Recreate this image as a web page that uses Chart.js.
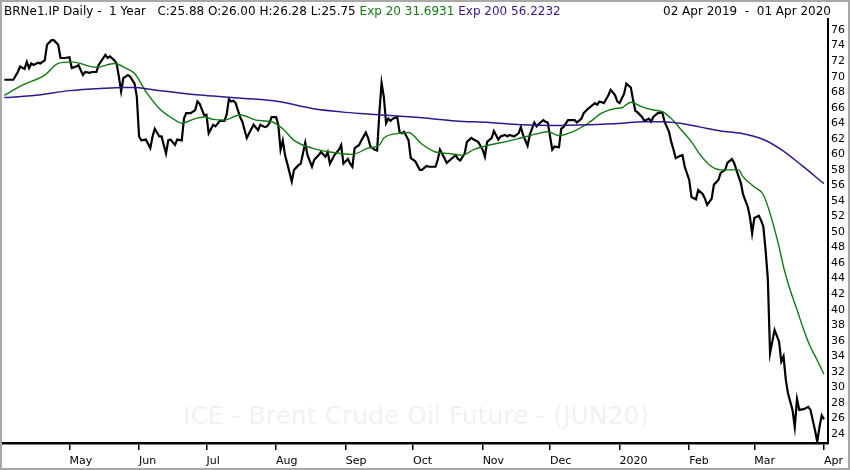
<!DOCTYPE html>
<html>
<head>
<meta charset="utf-8">
<script src="https://cdn.jsdelivr.net/npm/chart.js@4/dist/chart.umd.min.js"></script>
<style>
  html, body { margin: 0; padding: 0; background: #fff; }
  #wrap { width: 850px; height: 470px; }
</style>
</head>
<body>
<div id="wrap"><canvas id="brentChart" width="850" height="470"></canvas></div>
<script>
// Brent daily closes
var closeDates = [
  '2019-04-02','2019-04-06','2019-04-08','2019-04-09','2019-04-11','2019-04-12','2019-04-13','2019-04-14','2019-04-15',
  '2019-04-17','2019-04-18','2019-04-19','2019-04-20','2019-04-21','2019-04-23','2019-04-24','2019-04-26','2019-04-27',
  '2019-04-28','2019-04-29',
  '2019-05-01','2019-05-02','2019-05-04','2019-05-05','2019-05-07','2019-05-08','2019-05-10','2019-05-11','2019-05-13',
  '2019-05-14','2019-05-17','2019-05-18','2019-05-19','2019-05-21','2019-05-22','2019-05-23','2019-05-24','2019-05-25',
  '2019-05-27','2019-05-28','2019-05-30','2019-05-31',
  '2019-06-01','2019-06-02','2019-06-04','2019-06-06','2019-06-07','2019-06-08','2019-06-10','2019-06-11','2019-06-13',
  '2019-06-14','2019-06-15','2019-06-17','2019-06-18','2019-06-20','2019-06-21','2019-06-22','2019-06-24','2019-06-26',
  '2019-06-27','2019-06-28','2019-06-30',
  '2019-07-01','2019-07-02','2019-07-04','2019-07-05','2019-07-07','2019-07-09','2019-07-10','2019-07-11','2019-07-12',
  '2019-07-13','2019-07-14','2019-07-16','2019-07-17','2019-07-18','2019-07-19','2019-07-20','2019-07-22','2019-07-24',
  '2019-07-25','2019-07-27','2019-07-28','2019-07-29','2019-07-30',
  '2019-08-01','2019-08-02','2019-08-03','2019-08-04','2019-08-05','2019-08-06','2019-08-08','2019-08-09','2019-08-11',
  '2019-08-12','2019-08-14','2019-08-15','2019-08-17','2019-08-18','2019-08-20','2019-08-21','2019-08-23','2019-08-24',
  '2019-08-25','2019-08-27','2019-08-29','2019-08-30','2019-08-31',
  '2019-09-02','2019-09-03','2019-09-04','2019-09-05','2019-09-07','2019-09-08','2019-09-10','2019-09-11','2019-09-12',
  '2019-09-14','2019-09-15','2019-09-16','2019-09-17','2019-09-18','2019-09-19','2019-09-20','2019-09-21','2019-09-22',
  '2019-09-24','2019-09-25','2019-09-26','2019-09-27','2019-09-29','2019-09-30',
  '2019-10-02','2019-10-04','2019-10-05','2019-10-07','2019-10-08','2019-10-11','2019-10-12','2019-10-13','2019-10-15',
  '2019-10-16','2019-10-18','2019-10-20','2019-10-21','2019-10-22','2019-10-24','2019-10-25','2019-10-27','2019-10-28',
  '2019-10-30',
  '2019-11-01','2019-11-02','2019-11-03','2019-11-05','2019-11-06','2019-11-08','2019-11-09','2019-11-11','2019-11-12',
  '2019-11-13','2019-11-15','2019-11-17','2019-11-18','2019-11-19','2019-11-21','2019-11-22','2019-11-24','2019-11-25',
  '2019-11-26','2019-11-28','2019-11-29','2019-11-30',
  '2019-12-02','2019-12-03','2019-12-05','2019-12-06','2019-12-07','2019-12-09','2019-12-10','2019-12-12','2019-12-13',
  '2019-12-15','2019-12-16','2019-12-18','2019-12-19','2019-12-21','2019-12-22','2019-12-23','2019-12-25','2019-12-27',
  '2019-12-28','2019-12-30','2019-12-31',
  '2020-01-01','2020-01-03','2020-01-04','2020-01-06','2020-01-07','2020-01-08','2020-01-09','2020-01-11','2020-01-12',
  '2020-01-14','2020-01-15','2020-01-16','2020-01-18','2020-01-20','2020-01-21','2020-01-23','2020-01-24','2020-01-25',
  '2020-01-26','2020-01-28','2020-01-29','2020-01-30',
  '2020-02-01','2020-02-02','2020-02-04','2020-02-05','2020-02-07','2020-02-08','2020-02-09','2020-02-11','2020-02-12',
  '2020-02-14','2020-02-15','2020-02-17','2020-02-18','2020-02-20','2020-02-21','2020-02-22','2020-02-24','2020-02-25',
  '2020-02-27','2020-02-28','2020-02-29',
  '2020-03-01','2020-03-03','2020-03-04','2020-03-05','2020-03-06','2020-03-07','2020-03-08','2020-03-10','2020-03-12',
  '2020-03-13','2020-03-14','2020-03-15','2020-03-16','2020-03-18','2020-03-19','2020-03-20','2020-03-21','2020-03-23',
  '2020-03-25','2020-03-26','2020-03-27','2020-03-28','2020-03-29','2020-03-30','2020-03-31','2020-04-01'
];
var closes = [
  69.6, 69.6, 70.6, 71.3, 71.0, 71.9, 71.1, 71.7, 71.5,
  71.8, 71.7, 71.9, 72.1, 74.1, 74.7, 74.7, 74.1, 72.4,
  72.4, 72.4,
  72.5, 71.1, 71.3, 71.5, 70.2, 70.6, 70.5, 70.6, 70.6,
  71.5, 72.8, 72.4, 72.6, 72.1, 71.7, 70.0, 68.1, 69.8,
  70.2, 70.0, 69.1, 67.4,
  62.3, 61.8, 61.9, 60.8, 62.3, 63.3, 62.3, 62.3, 60.1,
  61.8, 61.9, 61.2, 61.9, 61.8, 64.6, 65.3, 65.3, 65.7,
  66.8, 66.5, 65.0,
  65.1, 62.7, 63.8, 63.6, 64.3, 64.3, 65.1, 67.1, 66.8,
  66.9, 66.6, 64.8, 64.2, 63.1, 62.1, 62.7, 63.8, 63.1,
  63.8, 63.5, 63.6, 64.0, 64.8,
  64.8, 63.8, 60.6, 61.8, 59.9, 58.8, 56.5, 58.0, 58.6,
  58.8, 61.5, 59.9, 58.4, 59.3, 59.9, 60.3, 59.7, 60.3,
  58.8, 59.9, 60.6, 61.2, 58.8,
  59.4, 58.8, 58.4, 60.8, 61.2, 61.8, 62.8, 62.1, 61.0,
  60.6, 60.5, 65.3, 69.2, 67.4, 64.0, 64.6, 64.3, 64.6,
  64.8, 62.9, 62.7, 62.9, 61.8, 59.5,
  59.1, 58.0, 58.0, 58.5, 58.4, 58.4, 59.3, 60.6, 59.5,
  58.9, 59.4, 59.9, 59.4, 59.2, 60.1, 61.6, 62.1, 61.9,
  61.6,
  60.6, 59.7, 61.6, 62.1, 63.0, 61.9, 62.3, 62.5, 62.3,
  62.5, 62.3, 62.7, 63.5, 62.5, 61.1, 62.5, 64.1, 63.6,
  63.9, 64.4, 64.2, 64.1,
  60.6, 61.0, 60.9, 63.3, 63.5, 64.4, 64.4, 64.4, 64.1,
  64.6, 65.3, 65.9, 66.1, 66.6, 66.4, 66.8, 66.6, 67.6,
  68.3, 67.6, 66.8,
  66.6, 67.8, 69.1, 68.6, 67.0, 65.6, 65.4, 64.8, 64.3,
  64.6, 64.2, 64.8, 65.3, 65.4, 64.2, 62.9, 61.6, 60.6,
  59.5, 59.8, 59.9, 58.4,
  56.7, 54.5, 54.2, 55.4, 54.9, 54.3, 53.5, 54.3, 56.1,
  56.7, 57.6, 58.0, 58.9, 59.4, 58.9, 58.0, 56.3, 54.8,
  53.3, 52.0, 49.8,
  51.8, 52.1, 51.5, 50.7, 47.7, 44.0, 34.4, 37.4, 35.9,
  33.3, 34.0, 31.0, 29.2, 27.1, 24.9, 28.5, 27.1, 27.2,
  27.5, 27.1, 25.8, 24.5, 23.0, 24.9, 26.4, 25.88
];

// Exp 20 line
var ema20Dates = [
  '2019-04-02','2019-04-10','2019-04-20','2019-04-26','2019-05-02','2019-05-13','2019-05-21','2019-05-26','2019-05-30',
  '2019-06-04','2019-06-10','2019-06-16','2019-06-20','2019-06-26','2019-06-30','2019-07-04','2019-07-09','2019-07-16',
  '2019-07-23','2019-07-30','2019-08-04','2019-08-09','2019-08-17','2019-08-25','2019-09-04','2019-09-11','2019-09-16',
  '2019-09-18','2019-09-25','2019-09-29','2019-10-05','2019-10-11','2019-10-17','2019-10-23','2019-10-28','2019-11-04',
  '2019-11-11','2019-11-18','2019-11-26','2019-11-30','2019-12-05','2019-12-11','2019-12-18','2019-12-24','2019-12-30',
  '2020-01-02','2020-01-06','2020-01-11','2020-01-16','2020-01-20','2020-01-24','2020-01-28','2020-02-02','2020-02-06',
  '2020-02-11','2020-02-15','2020-02-20','2020-02-23','2020-02-25','2020-03-01','2020-03-05','2020-03-08','2020-03-12',
  '2020-03-14','2020-03-17','2020-03-20','2020-03-23','2020-03-26','2020-03-29','2020-04-01'
];
var ema20 = [
  67.6, 68.9, 70.2, 71.7, 71.9, 71.2, 71.7, 71.1, 70.4,
  68.1, 65.9, 64.6, 64.0, 64.6, 64.8, 64.5, 64.4, 65.1,
  64.4, 64.2, 63.3, 61.8, 60.8, 60.3, 60.0, 60.8, 61.2,
  62.1, 62.7, 62.8, 61.3, 60.3, 60.1, 59.9, 60.6, 61.2,
  61.6, 62.1, 62.7, 62.9, 62.4, 62.9, 64.0, 65.3, 65.9,
  66.0, 66.7, 66.1, 65.7, 65.5, 64.6, 63.3, 61.6, 59.9,
  58.4, 58.0, 58.0, 58.0, 57.1, 55.8, 54.8, 52.4, 48.1,
  45.5, 42.5, 40.0, 37.4, 35.2, 33.5, 31.69
];

// Exp 200 line
var ema200Dates = [
  '2019-04-02','2019-04-16','2019-05-01','2019-05-16','2019-05-25','2019-05-30','2019-06-07','2019-06-22','2019-07-04',
  '2019-07-18','2019-08-02','2019-08-17','2019-09-01','2019-09-16','2019-10-05','2019-10-20','2019-11-04','2019-11-18',
  '2019-12-03','2019-12-18','2020-01-02','2020-01-11','2020-01-20','2020-01-28','2020-02-06','2020-02-15','2020-02-24',
  '2020-03-05','2020-03-13','2020-03-22','2020-04-01'
];
var ema200 = [
  67.3, 67.6, 68.2, 68.5, 68.6, 68.6, 68.3, 67.8, 67.5,
  67.2, 66.8, 65.9, 65.4, 65.1, 64.7, 64.3, 64.1, 63.8,
  63.7, 63.8, 64.0, 64.2, 64.2, 64.0, 63.5, 63.0, 62.7,
  61.9, 60.6, 58.6, 56.22
];

var monthTickDates = ['2019-05-01','2019-06-01','2019-07-01','2019-08-01','2019-09-01','2019-10-01',
                      '2019-11-01','2019-12-01','2020-01-01','2020-02-01','2020-03-01','2020-04-01'];
var monthTickLabels = ['May','Jun','Jul','Aug','Sep','Oct','Nov','Dec','2020','Feb','Mar','Apr'];
var priceTicks = [24,26,28,30,32,34,36,38,40,42,44,46,48,50,52,54,56,58,60,62,64,66,68,70,72,74,76];

// days since the first bar, so a plain linear axis can be used (no date adapter offline)
var startMs = Date.parse('2019-04-02');
function dayNo(s) { return (Date.parse(s) - startMs) / 86400000; }
function toPoints(dates, vals) {
  return dates.map(function (d, i) { return { x: dayNo(d), y: vals[i] }; });
}

var FONT = "'DejaVu Sans', 'Open Sans', sans-serif";

// draw a run of coloured text pieces squeezed to a given width (the original uses a narrow font)
function drawRun(ctx, pieces, x0, x1, y) {
  var total = 0;
  pieces.forEach(function (p) { total += ctx.measureText(p[0]).width; });
  var k = Math.min(1, (x1 - x0) / total);
  ctx.save();
  ctx.translate(x0, y);
  ctx.scale(k, 1);
  var x = 0;
  pieces.forEach(function (p) {
    ctx.fillStyle = p[1];
    ctx.fillText(p[0], x, 0);
    x += ctx.measureText(p[0]).width;
  });
  ctx.restore();
}

// frame, header texts and the faint watermark
var decor = {
  id: 'decor',
  beforeDatasetsDraw: function (chart) {
    var ctx = chart.ctx;
    ctx.save();
    ctx.font = '25px ' + FONT;
    ctx.fillStyle = '#f1f1f1';
    ctx.textAlign = 'center';
    ctx.textBaseline = 'middle';
    ctx.fillText('ICE - Brent Crude Oil Future - (JUN20)', 416, 417);
    ctx.restore();
  },
  afterDraw: function (chart) {
    var ctx = chart.ctx;
    ctx.save();
    ctx.strokeStyle = '#a8a8a8';
    ctx.lineWidth = 3;
    ctx.strokeRect(0.5, 0.5, 849, 469);
    ctx.font = '12px ' + FONT;
    ctx.textBaseline = 'alphabetic';
    drawRun(ctx, [
      ['BRNe1.IP Daily -  1 Year   C:25.88 O:26.00 H:26.28 L:25.75 ', '#000'],
      ['Exp 20 31.6931', '#117a11'],
      [' Exp 200 56.2232', '#35168c']
    ], 4, 562, 15);
    drawRun(ctx, [['02 Apr 2019  -  01 Apr 2020', '#000']], 663, 838, 15);
    ctx.restore();
  }
};

var ctx1 = document.getElementById('brentChart').getContext('2d');
var brentChart = new Chart(ctx1, {
  type: 'line',
  data: {
    datasets: [{
      label: 'Exp 200',
      data: toPoints(ema200Dates, ema200),
      borderColor: '#35168c',
      borderWidth: 1.5,
      pointRadius: 0,
      cubicInterpolationMode: 'monotone'
    }, {
      label: 'Exp 20',
      data: toPoints(ema20Dates, ema20),
      borderColor: '#117a11',
      borderWidth: 1.4,
      pointRadius: 0,
      cubicInterpolationMode: 'monotone'
    }, {
      label: 'BRNe1.IP',
      data: toPoints(closeDates, closes),
      borderColor: '#000',
      borderWidth: 2.2,
      pointRadius: 0,
      tension: 0
    }]
  },
  options: {
    responsive: false,
    animation: false,
    devicePixelRatio: 1,
    layout: { padding: { left: 3, top: 19, right: 0, bottom: 0 } },
    plugins: { legend: { display: false }, tooltip: { enabled: false } },
    scales: {
      x: {
        type: 'linear',
        min: -0.6,
        max: 366.8,
        afterBuildTicks: function (scale) {
          scale.ticks = monthTickDates.map(function (d) { return { value: dayNo(d) }; });
        },
        afterFit: function (scale) { scale.height = 27; },
        ticks: {
          align: 'start',
          padding: 5,
          maxRotation: 0,
          autoSkip: false,
          color: '#000',
          font: { family: FONT, size: 11 },
          callback: function (v) {
            var i = monthTickDates.map(dayNo).indexOf(v);
            return i >= 0 ? monthTickLabels[i] : '';
          }
        },
        grid: { display: true, drawOnChartArea: false, drawTicks: true, tickLength: 7, color: '#000', lineWidth: 1.5 },
        border: { display: true, color: '#000', width: 2.5 }
      },
      y: {
        position: 'right',
        min: 22.84,
        max: 77.42,
        afterBuildTicks: function (scale) {
          scale.ticks = priceTicks.map(function (v) { return { value: v }; });
        },
        afterFit: function (scale) { scale.width = 22; },
        ticks: {
          padding: 3,
          color: '#000',
          font: { family: FONT, size: 11 }
        },
        grid: { display: false, drawTicks: false, tickLength: 0 },
        border: { display: true, color: '#000', width: 2 }
      }
    }
  },
  plugins: [decor]
});
</script>
</body>
</html>
